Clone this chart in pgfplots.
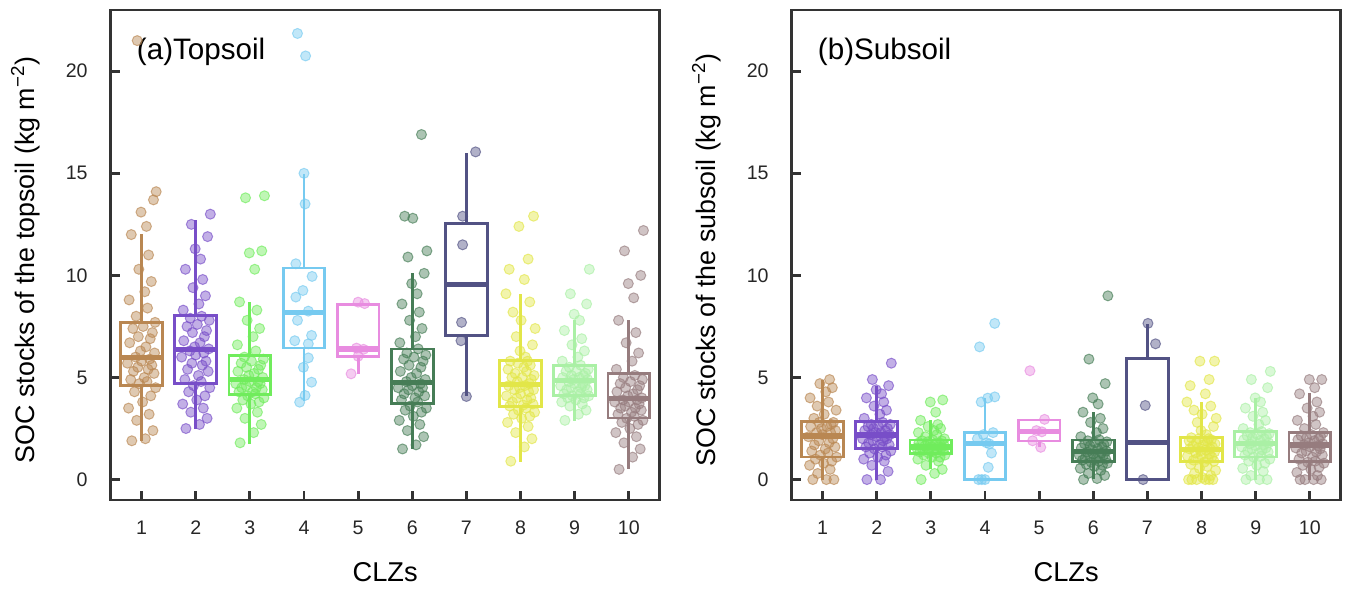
\documentclass[border=0pt]{standalone}
\usepackage{fontspec}
\setmainfont{Liberation Sans}
\usepackage{pgfplots}
\usepackage{pgfplotstable}
\pgfplotsset{compat=1.18}
\usepgfplotslibrary{statistics}

\definecolor{c1}{RGB}{185,135,82}
\definecolor{c2}{RGB}{120,78,200}
\definecolor{c3}{RGB}{112,236,92}
\definecolor{c4}{RGB}{118,202,240}
\definecolor{c5}{RGB}{232,140,224}
\definecolor{c6}{RGB}{70,125,86}
\definecolor{c7}{RGB}{82,82,132}
\definecolor{c8}{RGB}{226,230,72}
\definecolor{c9}{RGB}{170,240,165}
\definecolor{c10}{RGB}{150,124,126}

% jitter j and values of the dense groups, topsoil
\pgfplotstableread{
j g1 g2 g3 g6 g8 g9 g10
-0.18 1.9 2.5 1.8 1.5 0.9 2.9 0.5
0.07 2.0 2.7 2.3 1.7 1.6 3.2 1.1
0.21 2.4 3.0 2.7 2.1 2.0 3.4 1.5
-0.09 2.9 3.3 3.0 2.4 2.3 3.6 1.8
0.14 3.2 3.5 3.3 2.7 2.6 3.7 2.1
-0.24 3.5 3.7 3.5 2.9 2.8 3.8 2.3
0.02 3.8 3.9 3.7 3.1 3.0 3.9 2.5
0.17 4.1 4.1 3.8 3.3 3.1 4.0 2.7
-0.13 4.3 4.3 3.9 3.4 3.2 4.0 2.8
0.26 4.5 4.5 4.0 3.5 3.3 4.1 2.9
-0.04 4.7 4.6 4.1 3.6 3.4 4.1 3.0
0.10 4.8 4.8 4.2 3.8 3.5 4.2 3.1
-0.20 4.9 4.9 4.3 3.9 3.6 4.2 3.2
0.05 5.0 5.1 4.3 4.0 3.65 4.3 3.3
0.23 5.2 5.3 4.4 4.1 3.7 4.4 3.4
-0.15 5.3 5.4 4.5 4.2 3.8 4.4 3.5
0.12 5.4 5.6 4.5 4.3 3.9 4.5 3.5
-0.07 5.5 5.7 4.6 4.4 4.0 4.5 3.6
0.19 5.6 5.8 4.7 4.5 4.0 4.6 3.7
-0.26 5.7 6.0 4.7 4.5 4.1 4.6 3.8
0.00 5.8 6.1 4.8 4.6 4.2 4.7 3.8
0.15 5.9 6.2 4.8 4.7 4.3 4.7 3.9
-0.11 6.0 6.3 4.9 4.8 4.4 4.8 3.9
0.24 6.2 6.4 5.0 4.9 4.4 4.9 4.0
-0.02 6.3 6.5 5.1 5.0 4.5 4.9 4.1
0.08 6.5 6.7 5.2 5.2 4.6 5.0 4.2
-0.22 6.7 6.8 5.3 5.3 4.6 5.0 4.3
0.16 6.9 7.0 5.4 5.5 4.7 5.1 4.4
-0.06 7.0 7.2 5.5 5.6 4.8 5.1 4.5
0.20 7.2 7.3 5.6 5.8 4.9 5.2 4.6
-0.16 7.4 7.5 5.7 5.9 5.0 5.3 4.7
0.03 7.5 7.6 5.8 6.0 5.0 5.3 4.8
0.25 7.7 7.8 5.9 6.1 5.1 5.4 4.9
-0.10 8.0 7.9 6.0 6.2 5.2 5.5 5.0
0.11 8.4 8.0 6.3 6.4 5.3 5.6 5.1
-0.23 8.8 8.3 6.6 6.7 5.4 5.8 5.4
0.06 9.2 8.6 7.0 7.0 5.5 6.0 5.8
0.18 9.7 9.0 7.4 7.4 5.6 6.3 6.2
-0.05 10.3 9.4 7.8 7.8 5.7 6.6 6.7
0.13 11.0 9.8 8.3 8.2 5.8 6.9 7.2
-0.19 12.0 10.3 8.7 8.6 5.8 7.3 7.8
0.09 12.4 10.8 10.3 9.1 6.0 7.8 8.9
-0.01 13.1 11.3 11.1 9.6 6.3 8.1 9.6
0.22 13.7 11.9 11.2 10.1 6.6 8.6 10.0
-0.08 21.5 12.5 13.8 10.9 7.0 9.1 11.2
0.27 14.1 13.0 13.9 11.2 7.4 10.3 12.2
0.01 nan nan nan 12.8 7.8 nan nan
-0.14 nan nan nan 12.9 8.2 nan nan
0.17 nan nan nan 16.9 8.7 nan nan
-0.27 nan nan nan nan 9.1 nan nan
0.07 nan nan nan nan 9.8 nan nan
-0.21 nan nan nan nan 10.3 nan nan
0.14 nan nan nan nan 10.8 nan nan
-0.03 nan nan nan nan 12.4 nan nan
0.24 nan nan nan nan 12.9 nan nan
}\toptab

% subsoil
\pgfplotstableread{
j g1 g2 g3 g6 g8 g9 g10
-0.18 0.0 0.0 0.0 0.0 0.0 0.0 0.0
0.07 0.0 0.0 0.3 0.05 0.0 0.0 0.0
0.21 0.0 0.4 0.5 0.2 0.0 0.0 0.0
-0.09 0.3 0.7 0.7 0.3 0.0 0.2 0.0
0.14 0.5 0.9 0.9 0.45 0.0 0.4 0.2
-0.24 0.7 1.0 1.0 0.55 0.0 0.55 0.35
0.02 0.8 1.1 1.1 0.65 0.1 0.7 0.5
0.17 0.9 1.2 1.1 0.7 0.2 0.8 0.6
-0.13 1.0 1.3 1.2 0.75 0.3 0.9 0.7
0.26 1.1 1.4 1.2 0.8 0.45 1.0 0.8
-0.04 1.2 1.5 1.3 0.85 0.55 1.1 0.85
0.10 1.3 1.6 1.3 0.9 0.65 1.15 0.9
-0.20 1.4 1.6 1.35 0.95 0.75 1.2 1.0
0.05 1.5 1.7 1.4 1.0 0.85 1.3 1.1
0.23 1.6 1.7 1.4 1.0 0.9 1.35 1.2
-0.15 1.7 1.8 1.45 1.05 0.95 1.4 1.3
0.12 1.8 1.9 1.5 1.1 1.0 1.45 1.35
-0.07 1.9 1.9 1.5 1.15 1.05 1.5 1.4
0.19 2.0 2.0 1.55 1.2 1.1 1.55 1.5
-0.26 2.1 2.0 1.55 1.2 1.15 1.6 1.55
0.00 2.2 2.1 1.6 1.25 1.2 1.65 1.6
0.15 2.3 2.1 1.6 1.3 1.25 1.7 1.65
-0.11 2.3 2.2 1.65 1.35 1.3 1.75 1.7
0.24 2.4 2.2 1.7 1.4 1.35 1.8 1.75
-0.02 2.5 2.3 1.7 1.45 1.4 1.85 1.8
0.08 2.6 2.3 1.75 1.5 1.45 1.9 1.9
-0.22 2.6 2.4 1.8 1.55 1.5 1.95 1.95
0.16 2.7 2.4 1.8 1.6 1.5 2.0 2.0
-0.06 2.8 2.5 1.85 1.65 1.55 2.05 2.05
0.20 2.8 2.5 1.9 1.7 1.6 2.1 2.1
-0.16 3.0 2.6 1.9 1.75 1.65 2.15 2.15
0.03 3.2 2.6 1.95 1.8 1.7 2.2 2.2
0.25 3.4 2.7 2.0 1.85 1.75 2.25 2.3
-0.10 3.6 2.7 2.1 1.9 1.8 2.3 2.5
0.11 3.8 2.8 2.2 1.95 1.85 2.35 2.7
-0.23 4.0 3.0 2.3 2.1 1.9 2.5 2.9
0.06 4.3 3.2 2.4 2.3 1.9 2.7 3.1
0.18 4.5 3.4 2.5 2.5 1.95 2.9 3.3
-0.05 4.7 3.6 2.6 2.8 2.0 3.1 3.5
0.13 4.9 3.8 2.7 3.0 2.0 3.3 3.8
-0.19 nan 4.0 2.9 3.3 2.05 3.5 4.2
0.09 nan 4.2 3.3 3.7 2.2 3.8 4.5
-0.01 nan 4.4 3.8 4.0 2.4 4.0 4.9
0.22 nan 4.6 3.9 4.7 2.6 4.5 4.9
-0.08 nan 4.9 nan 5.9 2.8 4.9 nan
0.27 nan 5.7 nan 9.0 3.0 5.3 nan
0.01 nan nan nan nan 3.2 nan nan
-0.14 nan nan nan nan 3.4 nan nan
0.17 nan nan nan nan 3.6 nan nan
-0.27 nan nan nan nan 3.8 nan nan
0.07 nan nan nan nan 4.2 nan nan
-0.21 nan nan nan nan 4.6 nan nan
0.14 nan nan nan nan 4.9 nan nan
-0.03 nan nan nan nan 5.8 nan nan
0.24 nan nan nan nan 5.8 nan nan
}\subtab

\pgfplotsset{
  panel/.style={
    width=274.5pt, height=245pt, scale only axis,
    xmin=0.43, xmax=10.57, ymin=-1, ymax=23,
    xtick={1,...,10}, ytick={0,5,10,15,20},
    tick align=inside, tick pos=left, major tick length=4.5pt,
    axis line style={line width=1.4pt, draw=black!80},
    every tick/.style={line width=1.4pt, black!80},
    /pgf/number format/assume math mode=true,
    ticklabel style={font=\fontsize{9.8}{12}\selectfont, text=black!85},
    xticklabel style={yshift=-7pt},
    yticklabel style={xshift=-8pt},
    xlabel=CLZs,
    xlabel style={font=\fontsize{13.6}{16}\selectfont, at={(axis description cs:0.5,-0.147)}, anchor=center},
    ylabel style={font=\fontsize{13.4}{16}\selectfont, at={(axis description cs:-0.155,0.49)}, anchor=center, rotate=0},
    clip=false,
    boxplot/draw direction=y,
  },
  bx/.style={draw=#1, line width=1.4pt, solid,
    boxplot/draw direction=y,
    boxplot/box extend=0.77, boxplot/whisker extend=0,
    boxplot/every median/.style={line width=2.6pt}},
  pts/.style={only marks, mark=*, mark size=2.5pt,
    mark options={fill=#1, fill opacity=0.45, draw=#1, draw opacity=0.65, line width=0.5pt}},
}

\begin{document}
\begin{tikzpicture}
\begin{axis}[panel, name=top, ylabel={SOC stocks of the topsoil (kg m\textsuperscript{−2})}]
\addplot[bx=c1, boxplot prepared={draw position=1, lower whisker=1.91, lower quartile=4.61, median=5.96, upper quartile=7.71, upper whisker=12.04}] coordinates {};
\addplot[bx=c2, boxplot prepared={draw position=2, lower whisker=2.48, lower quartile=4.72, median=6.36, upper quartile=8.04, upper whisker=12.7}] coordinates {};
\addplot[bx=c3, boxplot prepared={draw position=3, lower whisker=1.75, lower quartile=4.15, median=4.9, upper quartile=6.08, upper whisker=8.69}] coordinates {};
\addplot[bx=c4, boxplot prepared={draw position=4, lower whisker=3.87, lower quartile=6.44, median=8.2, upper quartile=10.36, upper whisker=14.98}] coordinates {};
\addplot[bx=c5, boxplot prepared={draw position=5, lower whisker=5.18, lower quartile=6.03, median=6.4, upper quartile=8.56, upper whisker=8.56}] coordinates {};
\addplot[bx=c6, boxplot prepared={draw position=6, lower whisker=1.5, lower quartile=3.71, median=4.77, upper quartile=6.4, upper whisker=10.11}] coordinates {};
\addplot[bx=c7, boxplot prepared={draw position=7, lower whisker=4.07, lower quartile=7.06, median=9.56, upper quartile=12.56, upper whisker=16.0}] coordinates {};
\addplot[bx=c8, boxplot prepared={draw position=8, lower whisker=0.85, lower quartile=3.59, median=4.66, upper quartile=5.83, upper whisker=9.1}] coordinates {};
\addplot[bx=c9, boxplot prepared={draw position=9, lower whisker=2.86, lower quartile=4.12, median=4.85, upper quartile=5.59, upper whisker=7.8}] coordinates {};
\addplot[bx=c10, boxplot prepared={draw position=10, lower whisker=0.52, lower quartile=3.02, median=3.96, upper quartile=5.18, upper whisker=7.83}] coordinates {};

\addplot[pts=c1] table[x expr=\thisrow{j}+1, y=g1] {\toptab};
\addplot[pts=c2] table[x expr=\thisrow{j}+2, y=g2] {\toptab};
\addplot[pts=c3] table[x expr=\thisrow{j}+3, y=g3] {\toptab};
\addplot[pts=c4] coordinates {(3.88,21.85) (4.03,20.75) (4.0,15.0) (4.02,13.5) (3.85,10.57) (4.15,9.95) (3.98,9.26) (3.85,8.94) (4.08,8.25) (3.88,7.8) (4.14,7.06) (3.83,6.8) (4.08,6.65) (4.08,5.96) (3.99,5.5) (4.14,4.77) (4.02,4.12) (3.92,3.79)};
\addplot[pts=c5] coordinates {(5.0,8.69) (5.12,8.62) (4.97,6.44) (5.1,6.38) (5.0,6.04) (4.87,5.18)};
\addplot[pts=c6] table[x expr=\thisrow{j}+6, y=g6] {\toptab};
\addplot[pts=c7] coordinates {(7.17,16.05) (6.93,12.9) (6.93,11.5) (6.91,7.7) (6.9,6.8) (7.0,4.07)};
\addplot[pts=c8] table[x expr=\thisrow{j}+8, y=g8] {\toptab};
\addplot[pts=c9] table[x expr=\thisrow{j}+9, y=g9] {\toptab};
\addplot[pts=c10] table[x expr=\thisrow{j}+10, y=g10] {\toptab};

\node[anchor=west, font=\fontsize{14.8}{17}\selectfont] at (rel axis cs:0.035,0.914) {(a)Topsoil};
\end{axis}

\begin{axis}[panel, at={(340.5pt,0pt)}, ylabel={SOC stocks of the subsoil (kg m\textsuperscript{−2})}]
\addplot[bx=c1, boxplot prepared={draw position=1, lower whisker=0, lower quartile=1.11, median=2.13, upper quartile=2.84, upper whisker=4.89}] coordinates {};
\addplot[bx=c2, boxplot prepared={draw position=2, lower whisker=0, lower quartile=1.53, median=2.18, upper quartile=2.83, upper whisker=4.6}] coordinates {};
\addplot[bx=c3, boxplot prepared={draw position=3, lower whisker=0.5, lower quartile=1.28, median=1.6, upper quartile=1.94, upper whisker=2.9}] coordinates {};
\addplot[bx=c4, boxplot prepared={draw position=4, lower whisker=0, lower quartile=0, median=1.77, upper quartile=2.31, upper whisker=3.99}] coordinates {};
\addplot[bx=c5, boxplot prepared={draw position=5, lower whisker=1.58, lower quartile=1.89, median=2.34, upper quartile=2.92, upper whisker=2.92}] coordinates {};
\addplot[bx=c6, boxplot prepared={draw position=6, lower whisker=0.05, lower quartile=0.87, median=1.36, upper quartile=1.94, upper whisker=3.33}] coordinates {};
\addplot[bx=c7, boxplot prepared={draw position=7, lower whisker=0, lower quartile=0, median=1.8, upper quartile=5.93, upper whisker=7.6}] coordinates {};
\addplot[bx=c8, boxplot prepared={draw position=8, lower whisker=0, lower quartile=0.87, median=1.49, upper quartile=2.05, upper whisker=3.82}] coordinates {};
\addplot[bx=c9, boxplot prepared={draw position=9, lower whisker=0, lower quartile=1.11, median=1.77, upper quartile=2.34, upper whisker=3.99}] coordinates {};
\addplot[bx=c10, boxplot prepared={draw position=10, lower whisker=0, lower quartile=0.87, median=1.69, upper quartile=2.3, upper whisker=4.24}] coordinates {};

\addplot[pts=c1] table[x expr=\thisrow{j}+1, y=g1] {\subtab};
\addplot[pts=c2] table[x expr=\thisrow{j}+2, y=g2] {\subtab};
\addplot[pts=c3] table[x expr=\thisrow{j}+3, y=g3] {\subtab};
\addplot[pts=c4] coordinates {(4.18,7.65) (3.9,6.5) (4.18,4.05) (3.93,3.8) (4.05,3.99) (3.86,2.0) (4.15,2.3) (3.97,2.2) (4.03,1.8) (4.08,1.75) (4.12,1.3) (4.06,0.6) (3.88,0.0) (3.94,0.0) (4.0,0.0)};
\addplot[pts=c5] coordinates {(4.83,5.33) (5.1,2.95) (5.05,2.34) (4.95,2.4) (4.88,1.9) (5.03,1.58)};
\addplot[pts=c6] table[x expr=\thisrow{j}+6, y=g6] {\subtab};
\addplot[pts=c7] coordinates {(7.01,7.65) (7.15,6.65) (6.96,3.63) (6.92,0.0)};
\addplot[pts=c8] table[x expr=\thisrow{j}+8, y=g8] {\subtab};
\addplot[pts=c9] table[x expr=\thisrow{j}+9, y=g9] {\subtab};
\addplot[pts=c10] table[x expr=\thisrow{j}+10, y=g10] {\subtab};

\node[anchor=west, font=\fontsize{14.8}{17}\selectfont] at (rel axis cs:0.035,0.914) {(b)Subsoil};
\end{axis}

\pgfresetboundingbox
\path[use as bounding box] (-55.35pt,-46pt) rectangle (619.65pt,250pt);
\end{tikzpicture}
\end{document}
